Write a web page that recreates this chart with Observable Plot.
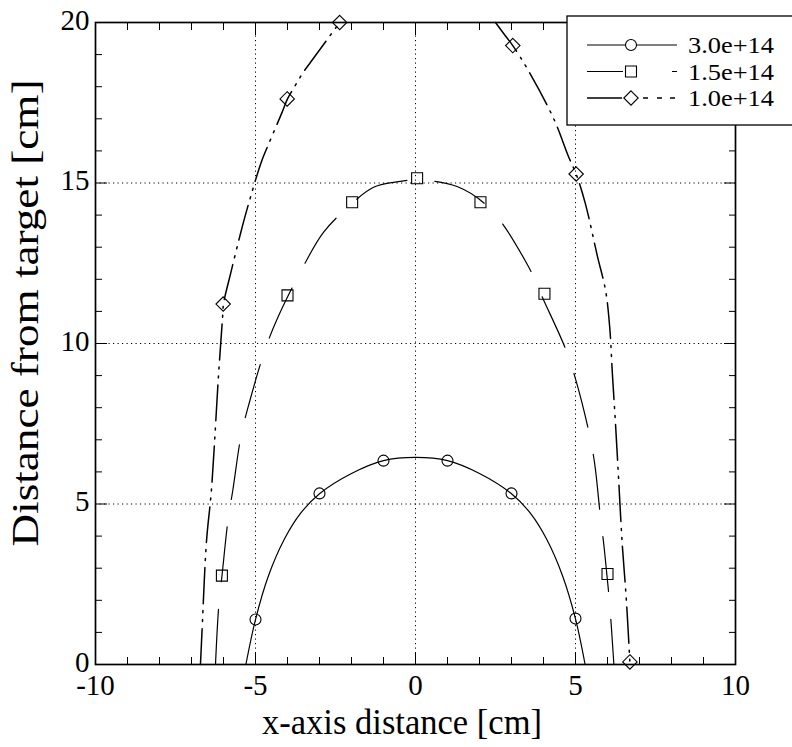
<!DOCTYPE html>
<html>
<head>
<meta charset="utf-8">
<script src="https://cdn.jsdelivr.net/npm/d3@7"></script>
<script src="https://cdn.jsdelivr.net/npm/@observablehq/plot@0.6"></script>
<style>
  body { margin: 0; background: #fff; }
  #chart { position: relative; width: 792px; height: 747px; }
  #chart svg text { font-family: "Liberation Serif", "Times New Roman", serif !important; }
  #legend { position: absolute; left: 566px; top: 15px; }
</style>
</head>
<body>
<div id="chart"></div>
<script>
// Axis ticks
const xTicks = [-10, -5, 0, 5, 10];
const yTicks = [0, 5, 10, 15, 20];
const xGrid = [-5, 0, 5];
const yGrid = [5, 10, 15];
const xMinor = [-9, -8, -7, -6, -4, -3, -2, -1, 1, 2, 3, 4, 6, 7, 8, 9];
const yMinor = [1, 2, 3, 4, 6, 7, 8, 9, 11, 12, 13, 14, 16, 17, 18, 19];

// Series names
const seriesNames = ["3.0e+14", "1.5e+14", "1.0e+14"];

// Measured points (markers)
const s1X = [-5, -3, -1, 1, 3, 5];
const s1Y = [1.4, 5.33, 6.35, 6.35, 5.33, 1.43];
const s2X = [-6.05, -4, -1.98, 0.05, 2.03, 4.03, 6.0];
const s2Y = [2.77, 11.5, 14.4, 15.15, 14.4, 11.55, 2.82];
const s3X = [-6.01, -4.01, -2.37, 3.04, 5.02, 6.7];
const s3Y = [11.23, 17.62, 20.0, 19.28, 15.28, 0.08];

// Fitted curves
const c1X = [-5.3, -5.0, -4.6, -4.1, -3.6, -3.0, -2.0, -1.0, 0, 1.0, 2.0, 3.0, 3.6, 4.1, 4.6, 5.0, 5.3];
const c1Y = [0, 1.4, 2.75, 3.9, 4.7, 5.32, 5.95, 6.35, 6.45, 6.35, 5.95, 5.32, 4.7, 3.9, 2.75, 1.42, 0];

const c2X = [-6.25, -6.15, -6.04, -5.86, -5.71, -5.45, -5.19, -4.71, -4.32, -3.47, -2.87, -2.0, -1.31, -0.47, 0, 1.3, 2.34, 3.49, 4.01, 4.69, 5.0, 5.42, 5.6, 5.78, 5.9, 6.07, 6.2];
const c2Y = [0, 1.8, 2.83, 4.49, 5.42, 7.13, 8.17, 9.78, 10.77, 12.47, 13.47, 14.35, 14.87, 15.05, 15.1, 14.89, 14.19, 12.47, 11.34, 9.83, 8.9, 7.24, 6.25, 4.59, 3.6, 1.84, 0];

// The 1.0e+14 curve leaves the top of the frame between its two branches
const c3LeftX = [-6.72, -6.67, -6.53, -6.38, -6.15, -6.03, -6.0, -5.78, -5.47, -5.18, -4.82, -4.63, -4.17, -4.0, -3.78, -3.54, -3.28, -2.37];
const c3LeftY = [0, 1.06, 3.86, 5.4, 9.1, 10.8, 11.23, 12.17, 13.42, 14.48, 15.65, 16.12, 17.2, 17.62, 18.0, 18.4, 18.76, 20.0];
const c3RightX = [2.5, 2.76, 3.04, 3.54, 4.32, 4.79, 5.02, 5.31, 5.68, 5.94, 6.07, 6.15, 6.25, 6.35, 6.46, 6.59, 6.7];
const c3RightY = [20, 19.65, 19.28, 18.48, 17.0, 15.8, 15.28, 14.35, 12.74, 11.65, 10.5, 9.1, 7.5, 5.73, 3.76, 2.0, 0.05];

const zip = (xs, ys, extra = {}) => xs.map((x, i) => ({x, y: ys[i], ...extra}));

const pts1 = zip(s1X, s1Y);
const pts2 = zip(s2X, s2Y);
const pts3 = zip(s3X, s3Y);
const curve1 = zip(c1X, c1Y);
const curve2 = zip(c2X, c2Y);
const curve3 = [...zip(c3LeftX, c3LeftY, {piece: "left"}), ...zip(c3RightX, c3RightY, {piece: "right"})];

const serif = "'Liberation Serif', 'Times New Roman', serif";
const dash2 = "55,28";
const dash3 = "36,7,2,7,2,7";
const ink = "black";
const plain = d => String(d); // hyphen-minus, as printed on the axes

const svg = Plot.plot({
  width: 792,
  height: 747,
  marginLeft: 95,
  marginRight: 57,
  marginTop: 22,
  marginBottom: 83,
  x: {domain: [-10, 10]},
  y: {domain: [0, 20]},
  style: {fontFamily: serif, fontSize: "28px", color: ink, background: "white"},
  marks: [
    Plot.gridX(xGrid, {stroke: ink, strokeOpacity: 1, strokeWidth: 1, strokeDasharray: "1.2,3.3"}),
    Plot.gridY(yGrid, {stroke: ink, strokeOpacity: 1, strokeWidth: 1, strokeDasharray: "1.2,3.3"}),
    // inward minor ticks on all four sides
    Plot.axisX(xMinor, {anchor: "bottom", tickSize: -7, text: null, label: null}),
    Plot.axisX(xMinor, {anchor: "top", tickSize: -7, text: null, label: null}),
    Plot.axisY(yMinor, {anchor: "left", tickSize: -7, text: null, label: null}),
    Plot.axisY(yMinor, {anchor: "right", tickSize: -7, text: null, label: null}),
    // inward major ticks
    Plot.axisX(xTicks, {anchor: "bottom", tickSize: -12, text: null, label: null}),
    Plot.axisX(xTicks, {anchor: "top", tickSize: -12, text: null, label: null}),
    Plot.axisY(yTicks, {anchor: "left", tickSize: -12, text: null, label: null}),
    Plot.axisY(yTicks, {anchor: "right", tickSize: -12, text: null, label: null}),
    // tick labels
    Plot.axisX(xTicks, {anchor: "bottom", tickSize: 0, tickPadding: 10, fontSize: 29, fontFamily: serif, tickFormat: plain, label: null}),
    Plot.axisY(yTicks, {anchor: "left", tickSize: 0, tickPadding: 6, fontSize: 29, fontFamily: serif, tickFormat: plain, label: null, dy: -2}),
    // curves
    Plot.line(curve1, {x: "x", y: "y", curve: "catmull-rom", stroke: ink, strokeWidth: 1.2}),
    Plot.line(curve2, {x: "x", y: "y", curve: "catmull-rom", stroke: ink, strokeWidth: 1.2, strokeDasharray: dash2}),
    Plot.line(curve3, {x: "x", y: "y", z: "piece", curve: "catmull-rom", stroke: ink, strokeWidth: 1.5, strokeDasharray: dash3}),
    // markers
    Plot.dot(pts1, {x: "x", y: "y", symbol: "circle", r: 5.5, stroke: ink, fill: "none", strokeWidth: 1.1}),
    Plot.dot(pts2, {x: "x", y: "y", symbol: "square", r: 6.2, stroke: ink, fill: "none", strokeWidth: 1.1}),
    Plot.dot(pts3, {x: "x", y: "y", symbol: "diamond2", r: 6.5, stroke: ink, fill: "none", strokeWidth: 1.1}),
    Plot.frame({stroke: ink, strokeWidth: 1.7})
  ]
});

// Axis titles
const s = d3.select(svg);
s.append("text")
  .attr("x", 402).attr("y", 734)
  .attr("text-anchor", "middle")
  .attr("font-size", 35)
  .attr("textLength", 280).attr("lengthAdjust", "spacingAndGlyphs")
  .attr("fill", ink)
  .text("x-axis distance [cm]");
s.append("text")
  .attr("transform", "translate(38,313) rotate(-90)")
  .attr("text-anchor", "middle")
  .attr("font-size", 37)
  .attr("textLength", 467).attr("lengthAdjust", "spacingAndGlyphs")
  .attr("fill", ink)
  .text("Distance from target [cm]");

const host = document.getElementById("chart");
host.appendChild(svg);

// Legend box
const lg = d3.select(host).append("svg")
  .attr("id", "legend")
  .attr("width", 226).attr("height", 112)
  .style("font-family", serif);
lg.append("rect").attr("x", 1).attr("y", 1).attr("width", 240).attr("height", 109)
  .attr("fill", "white").attr("stroke", ink).attr("stroke-width", 1.3);

const legendStyles = [
  {symbol: d3.symbolCircle, r: 5.5, dash: null},
  {symbol: d3.symbolSquare, r: 6.2, dash: "36,49,6,20"},
  {symbol: d3.symbolDiamond2, r: 6.5, dash: "35,21,5,9,5,8,5,20"}
];
const rowY = [30, 56.5, 83];
seriesNames.forEach((name, i) => {
  const st = legendStyles[i];
  const y = rowY[i];
  lg.append("line").attr("x1", 21).attr("x2", 111).attr("y1", y).attr("y2", y)
    .attr("stroke", ink).attr("stroke-width", i === 2 ? 1.5 : 1.2)
    .attr("stroke-dasharray", st.dash);
  lg.append("path")
    .attr("d", d3.symbol(st.symbol, Math.PI * st.r * st.r)())
    .attr("transform", `translate(65,${y})`)
    .attr("fill", "white").attr("stroke", ink).attr("stroke-width", 1.1);
  lg.append("text").attr("x", 122).attr("y", y + 8)
    .attr("font-size", 23)
    .attr("textLength", 86).attr("lengthAdjust", "spacingAndGlyphs")
    .attr("fill", ink).text(name);
});
</script>
</body>
</html>
